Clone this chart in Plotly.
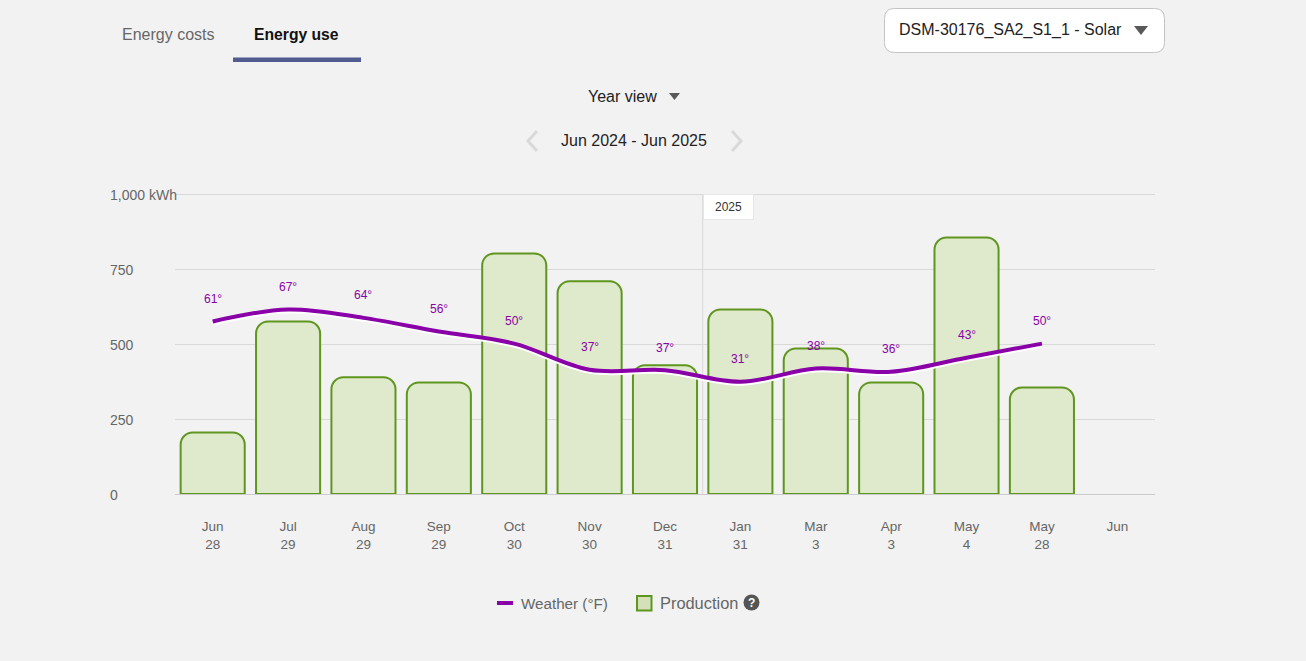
import plotly.graph_objects as go

# values
months = ['Jun<br>28', 'Jul<br>29', 'Aug<br>29', 'Sep<br>29', 'Oct<br>30', 'Nov<br>30', 'Dec<br>31',
          'Jan<br>31', 'Mar<br>3', 'Apr<br>3', 'May<br>4', 'May<br>28', 'Jun']
production = [205, 575, 389, 372, 802, 709, 429, 615, 485, 372, 855, 355, None]
weather = [61.0, 67.0, 62.8, 56.0, 50.0, 37.0, 36.8, 31.0, 37.6, 36.0, 43.0, 50.0, None]
weather_labels = ['61°', '67°', '64°', '56°', '50°', '37°', '37°', '31°', '38°', '36°', '43°', '50°']
y_ticks = [0, 250, 500, 750, 1000]
y_tick_labels = ['0', '250', '500', '750', '1,000 kWh']

W, H = 1306, 661
LEFT, RIGHT, TOP, BOTTOM = 175, 1155, 194, 494
SPARE = 3  # pixels above the 1,000 gridline, plotly drops a gridline sitting on the range edge
FONT = 'Liberation Sans'
BG = '#f2f2f2'
PURPLE = '#8a00a8'
GREEN = '#5f961f'
GREY = '#666666'


def px(x):
    return (x - LEFT) / (RIGHT - LEFT)


def py(y):
    return (BOTTOM - y) / (BOTTOM - TOP + SPARE)


def text(x, y, s, size=14, color=GREY, anchor='left', bold=False):
    return dict(xref='paper', yref='paper', x=px(x), y=py(y), text='<b>%s</b>' % s if bold else s,
                showarrow=False, xanchor=anchor, yanchor='middle',
                font=dict(family=FONT, size=size, color=color))


def path(d, **kw):
    return dict(type='path', xref='paper', yref='paper', path=d, **kw)


def pts(*coords):
    return ' '.join('%s %.5f,%.5f' % (c, px(x), py(y)) for c, x, y in coords)


def round_box(x0, y0, x1, y1, r):
    return (pts(('M', x0 + r, y0), ('L', x1 - r, y0)) + ' ' +
            pts(('Q', x1, y0), ('', x1, y0 + r)) + ' ' + pts(('L', x1, y1 - r)) + ' ' +
            pts(('Q', x1, y1), ('', x1 - r, y1)) + ' ' + pts(('L', x0 + r, y1)) + ' ' +
            pts(('Q', x0, y1), ('', x0, y1 - r)) + ' ' + pts(('L', x0, y0 + r)) + ' ' +
            pts(('Q', x0, y0), ('', x0 + r, y0)) + ' Z')


def triangle(x0, x1, y0, y1):
    return pts(('M', x0, y0), ('L', x1, y0), ('L', (x0 + x1) / 2, y1)) + ' Z'


def main():
    traces = [
        go.Bar(x=months, y=production, width=0.85, yaxis='y',
               marker=dict(color='#dfe9cb', line=dict(color=GREEN, width=2))),
        # white shadow sits on an axis whose range is moved by one degree
        go.Scatter(x=months, y=weather, yaxis='y2', mode='lines', hoverinfo='skip',
                   line=dict(color='white', width=4, shape='spline', smoothing=1)),
        go.Scatter(x=months, y=weather, yaxis='y3', mode='lines',
                   line=dict(color=PURPLE, width=4, shape='spline', smoothing=1)),
    ]

    annotations = []
    for m, t, label in zip(months, weather, weather_labels):
        annotations.append(dict(x=m, y=t, xref='x', yref='y3', text=label, showarrow=False, yshift=22.5,
                                font=dict(family=FONT, size=12, color=PURPLE)))
    for v, label in zip(y_ticks, y_tick_labels):
        annotations.append(dict(xref='paper', yref='y', x=px(108), y=v, text=label, showarrow=False, yshift=-1,
                                xanchor='left', font=dict(family=FONT, size=14, color=GREY)))
    annotations += [
        dict(x=6.5, xref='x', yref='paper', y=py(206.5), text='2025', showarrow=False, xanchor='left',
             yanchor='middle', width=47, height=22, bgcolor='white', bordercolor='#e6e6e6', borderwidth=1,
             font=dict(family=FONT, size=12, color='#333333')),
        text(168, 34, 'Energy costs', 16, GREY, 'center'),
        text(296.5, 34, 'Energy use', 15.7, '#111111', 'center', bold=True),
        text(897, 30, 'DSM-30176_SA2_S1_1 - Solar', 16, '#222222'),
        text(622, 96, 'Year view', 16, '#222222', 'center'),
        text(634, 140, 'Jun 2024 - Jun 2025', 16, '#222222', 'center'),
        text(519, 603, 'Weather (°F)', 15.2),
        text(658, 603, 'Production', 16.4),
        text(751.5, 602.5, '?', 12, 'white', 'center', bold=True),
    ]

    shapes = [
        dict(type='line', x0=6.5, x1=6.5, xref='x', yref='paper', y0=0, y1=py(TOP), layer='below',
             line=dict(color='#d8d8d8', width=1)),
        path(pts(('M', 233, 57.5), ('L', 361, 57.5), ('L', 361, 62), ('L', 233, 62)) + ' Z',
             fillcolor='#515b8f', line=dict(width=0)),
        path(round_box(884.5, 8.5, 1164.5, 52.5, 10), fillcolor='white', line=dict(color='#c4c4c4', width=1)),
        path(triangle(1134, 1148, 26, 35), fillcolor='#595959', line=dict(width=0)),
        path(triangle(669, 680, 93, 100), fillcolor='#595959', line=dict(width=0)),
        path(pts(('M', 537, 131), ('L', 528, 141), ('L', 537, 151)), line=dict(color='#d9d9d9', width=3)),
        path(pts(('M', 732, 131), ('L', 741, 141), ('L', 732, 151)), line=dict(color='#d9d9d9', width=3)),
        # legend
        dict(type='line', xref='paper', yref='paper', x0=px(497), x1=px(513), y0=py(603), y1=py(603),
             line=dict(color=PURPLE, width=4)),
        dict(type='rect', xref='paper', yref='paper', x0=px(637), x1=px(651.5), y0=py(596), y1=py(610.5),
             fillcolor='#d3e0b8', line=dict(color=GREEN, width=2)),
        dict(type='circle', xref='paper', yref='paper', x0=px(743.5), x1=px(759.5), y0=py(594.5), y1=py(610.5),
             fillcolor='#555555', line=dict(width=0)),
    ]

    fig = go.Figure(
        data=traces,
        layout=go.Layout(
            width=W,
            height=H,
            margin=dict(l=LEFT, r=W - RIGHT, t=TOP - SPARE, b=H - BOTTOM, autoexpand=False),
            paper_bgcolor=BG,
            plot_bgcolor=BG,
            showlegend=False,
            barcornerradius=12,
            xaxis=dict(type='category', categoryorder='array', categoryarray=months, range=[-0.5, 12.5],
                       showgrid=False, showline=True, linecolor='#cccccc', ticks='', ticklabelstandoff=20,
                       tickfont=dict(family=FONT, size=13.5, color=GREY)),
            yaxis=dict(range=[0, 1010], tickvals=y_ticks, showticklabels=False, showgrid=True,
                       gridcolor='#d9d9d9', gridwidth=1, zeroline=False),
            yaxis2=dict(overlaying='y', range=[-23.8, 126.9], visible=False),
            yaxis3=dict(overlaying='y', range=[-24.8, 125.9], visible=False),
            annotations=annotations,
            shapes=shapes,
        ))

    fig.write_html('out.html', config=dict(displayModeBar=False),
                   post_script="document.body.style.margin='0';")


if __name__ == '__main__':
    main()
